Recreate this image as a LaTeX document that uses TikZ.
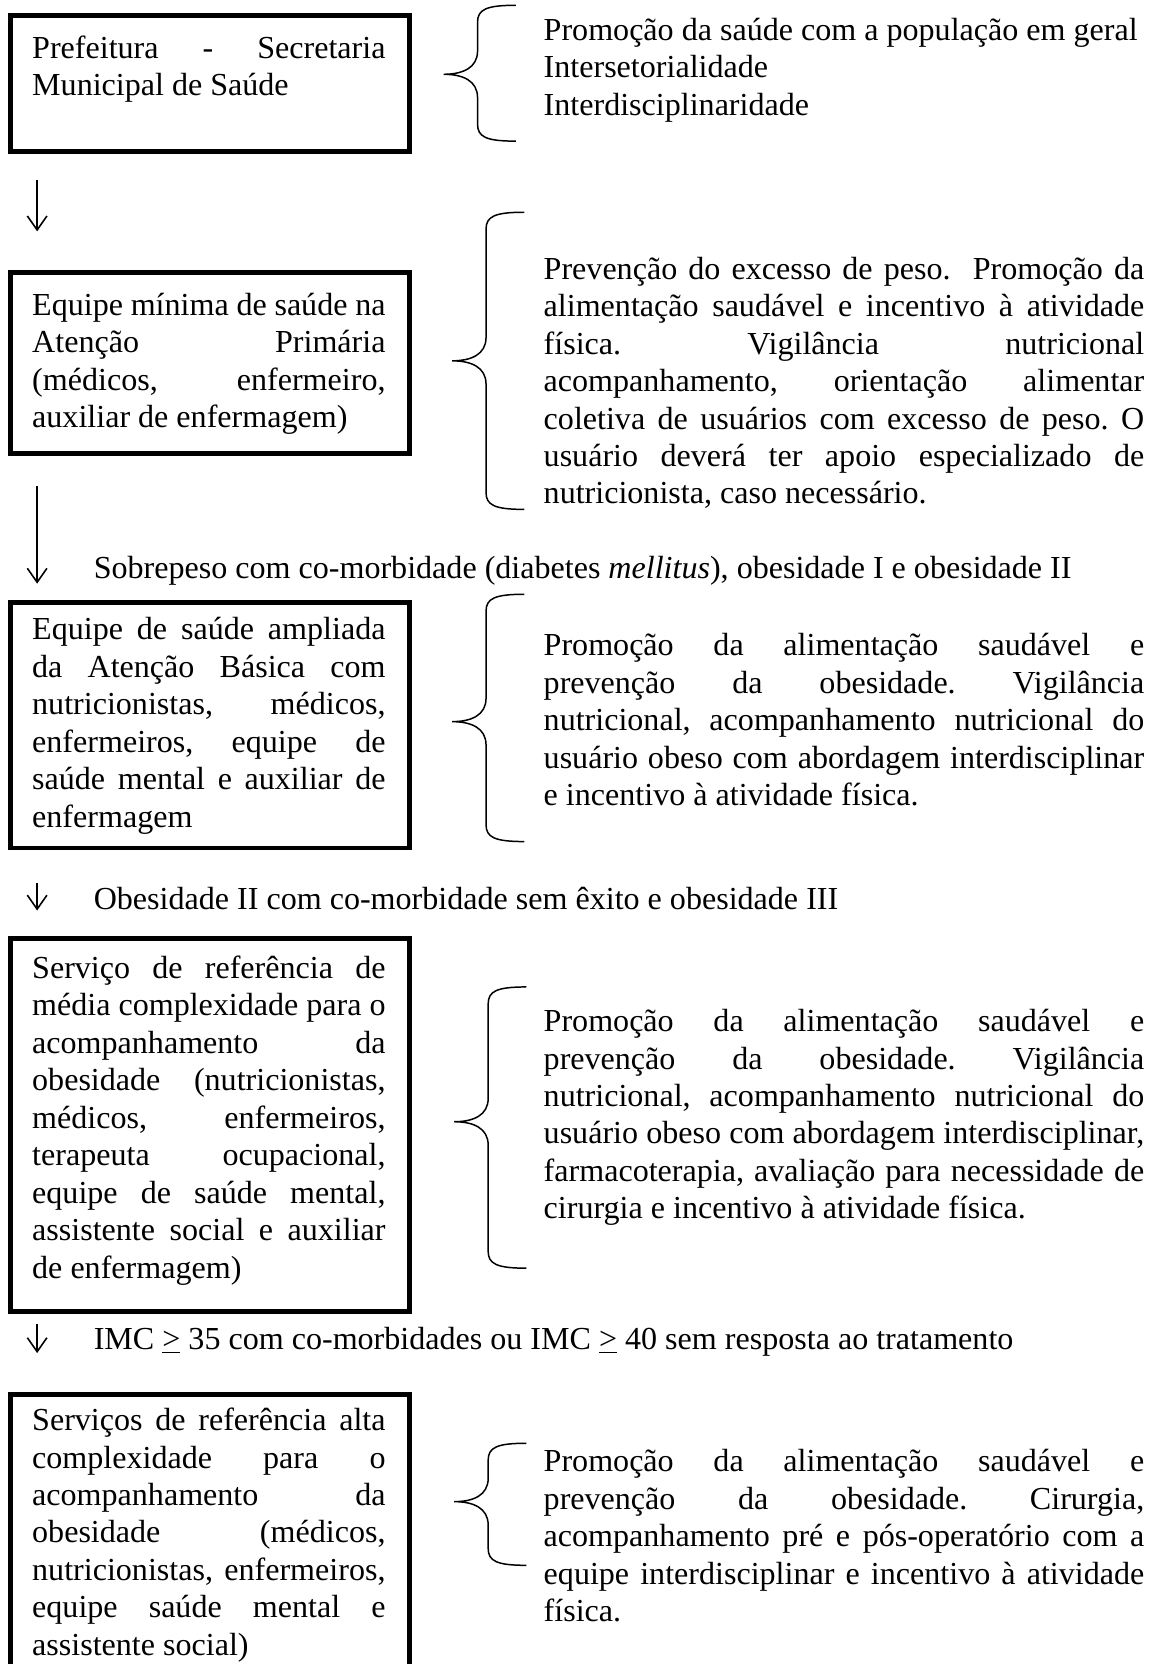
\documentclass[tikz,border=0pt]{standalone}
\usepackage{fontspec}
\setmainfont{Liberation Serif}
\usetikzlibrary{arrows.meta}

\hyphenpenalty=10000
\exhyphenpenalty=10000
\tolerance=9999
\frenchspacing

% chave: x da haste, topo, meio, base
\newcommand{\chave}[4]{%
	\draw[chavetraco] (#1+36,#2) .. controls (#1+8,#2) and (#1,#2+4) .. (#1,#2+16)
		-- (#1,#3-22) .. controls (#1,#3-6) and (#1-14,#3) .. (#1-32,#3)
		.. controls (#1-14,#3) and (#1,#3+6) .. (#1,#3+22)
		-- (#1,#4-16) .. controls (#1,#4-4) and (#1+8,#4) .. (#1+36,#4);}

\tikzset{
	caixa/.style={draw, line width=2.6pt},
	chavetraco/.style={line width=0.8pt},
	seta/.style={-{Straight Barb[length=7.5pt, width=10.5pt]}, line width=0.85pt},
	texto/.style={anchor=base west, inner sep=0pt, font=\fontsize{17.2}{20.1}\selectfont},
	esquerda/.style={texto, text width=6.66cm, align=justify},
	direita/.style={texto, text width=11.32cm, align=justify},
}

\begin{document}
\begin{tikzpicture}[x=0.02cm, y=-0.02cm]
	\clip (0,0) rectangle (1085,1568);

	% caixas
	\draw[caixa] (10,15) rectangle (386,143);
	\draw[caixa] (10,257) rectangle (386,427);
	\draw[caixa] (10,568) rectangle (386,799);
	\draw[caixa] (10,884) rectangle (386,1236);
	\draw[caixa] (10,1314) rectangle (386,1620);

	\node[esquerda] (t1) at (30,55) {Prefeitura - Secretaria\linebreak Municipal de Saúde};
	\node[esquerda] (t2) at (30,297) {Equipe mínima de saúde na\linebreak Atenção Primária\linebreak (médicos, enfermeiro,\linebreak auxiliar de enfermagem)};
	\node[esquerda] (t3) at (30,603) {Equipe de saúde ampliada\linebreak da Atenção Básica com\linebreak nutricionistas, médicos,\linebreak enfermeiros, equipe de\linebreak saúde mental e auxiliar de\linebreak enfermagem};
	\node[esquerda] (t4) at (30,922) {Serviço de referência de\linebreak média complexidade para o\linebreak acompanhamento da\linebreak obesidade (nutricionistas,\linebreak médicos, enfermeiros,\linebreak terapeuta ocupacional,\linebreak equipe de saúde mental,\linebreak assistente social e auxiliar\linebreak de enfermagem)};
	\node[esquerda] (t5) at (30,1348) {Serviços de referência alta\linebreak complexidade para o\linebreak acompanhamento da\linebreak obesidade (médicos,\linebreak nutricionistas, enfermeiros,\linebreak equipe saúde mental e\linebreak assistente social)};

	% chaves e textos da direita
	\chave{450}{5}{70}{133}
	\chave{458}{200}{340}{480}
	\chave{458}{560}{680}{793}
	\chave{460}{930}{1057}{1195}
	\chave{460}{1360}{1415}{1475}

	\node[texto, text width=12cm, align=flush left] (d1) at (512,38) {Promoção da saúde com a população em geral\\Intersetorialidade\\Interdisciplinaridade};
	\node[direita] (d2) at (512,263) {Prevenção do excesso de peso.\ \ Promoção da\linebreak alimentação saudável e incentivo à atividade\linebreak física. Vigilância nutricional\linebreak acompanhamento, orientação alimentar\linebreak coletiva de usuários com excesso de peso. O\linebreak usuário deverá ter apoio especializado de\linebreak nutricionista, caso necessário.};
	\node[direita] (d3) at (512,618) {Promoção da alimentação saudável e\linebreak prevenção da obesidade. Vigilância\linebreak nutricional, acompanhamento nutricional do\linebreak usuário obeso com abordagem interdisciplinar\linebreak e incentivo à atividade física.};
	\node[direita] (d4) at (512,972) {Promoção da alimentação saudável e\linebreak prevenção da obesidade. Vigilância\linebreak nutricional, acompanhamento nutricional do\linebreak usuário obeso com abordagem interdisciplinar,\linebreak farmacoterapia, avaliação para necessidade de\linebreak cirurgia e incentivo à atividade física.};
	\node[direita] (d5) at (512,1387) {Promoção da alimentação saudável e\linebreak prevenção da obesidade. Cirurgia,\linebreak acompanhamento pré e pós-operatório com a\linebreak equipe interdisciplinar e incentivo à atividade\linebreak física.};

	% setas entre os niveis
	\coordinate (s1a) at (35,170);
	\coordinate (s1b) at (35,218);
	\coordinate (s2a) at (35,458);
	\coordinate (s2b) at (35,550);
	\coordinate (s3a) at (35,832);
	\coordinate (s3b) at (35,858);
	\coordinate (s4a) at (35,1248);
	\coordinate (s4b) at (35,1275);
	\draw[seta] (s1a) -- (s1b);
	\draw[seta] (s2a) -- (s2b);
	\draw[seta] (s3a) -- (s3b);
	\draw[seta] (s4a) -- (s4b);

	\node[texto] (r1) at (88,545) {Sobrepeso com co-morbidade (diabetes \textit{mellitus}), obesidade I e obesidade II};
	\node[texto] (r2) at (88,857) {Obesidade II com co-morbidade sem êxito e obesidade III};
	\node[texto] (r3) at (88,1272) {IMC \underline{>} 35 com co-morbidades ou IMC \underline{>} 40 sem resposta ao tratamento};
\end{tikzpicture}
\end{document}
